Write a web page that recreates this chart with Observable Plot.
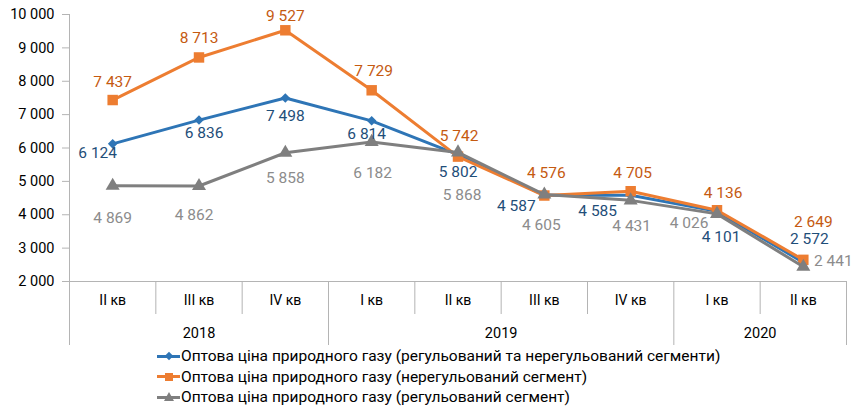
<!DOCTYPE html>
<html><head><meta charset="utf-8">
<script src="https://cdn.jsdelivr.net/npm/d3@7"></script>
<script src="https://cdn.jsdelivr.net/npm/@observablehq/plot@0.6"></script>
<style>
body{margin:0;background:#fff;font-family:Roboto,"Liberation Sans",sans-serif;}
#chart svg{display:block}
#legend{margin-left:157px;margin-top:1px;font-size:15.5px;color:#000;}
.row{height:20.5px;display:flex;align-items:center;white-space:nowrap}
.sw{position:relative;width:23px;height:12px;margin-right:1px;flex:none}
.sw .ln{position:absolute;left:0;right:0;top:4.5px;height:3px}
.sw .mk{position:absolute;}
</style>
</head><body>
<div id="chart"></div>
<div id="legend"></div>
<script>
// ---- data ----
const quarters = ["II кв","III кв","IV кв","I кв","II кв","III кв","IV кв","I кв","II кв"];
const quarterYear = ["2018","2018","2018","2019","2019","2019","2019","2020","2020"];
const years = ["2018","2019","2020"];
const seriesNames = [
  "Оптова ціна природного газу (регульований та нерегульований сегменти)",
  "Оптова ціна природного газу (нерегульований сегмент)",
  "Оптова ціна природного газу (регульований сегмент)"
];
const totalPrice       = [6124, 6836, 7498, 6814, 5802, 4587, 4585, 4101, 2572];
const unregulatedPrice = [7437, 8713, 9527, 7729, 5742, 4576, 4705, 4136, 2649];
const regulatedPrice   = [4869, 4862, 5858, 6182, 5868, 4605, 4431, 4026, 2441];
const yTicks = [2000, 3000, 4000, 5000, 6000, 7000, 8000, 9000, 10000];

// ---- style ----
const lineColors  = ["#2e75b6", "#ed7d31", "#7f7f7f"];
const labelColors = ["#1f4e79", "#c55a11", "#8c8c8c"];
const symbols = ["diamond2", "square", "triangle"];
const symbolR = [4.3, 5.9, 5.2];
const labelOffsets = [
  [[-15,9],[5,13],[0,18],[-5,13],[0,17],[-28,11],[-33,16],[4,26],[6,-23]],
  [[0,-18],[0,-19],[0,-14],[2,-19],[1,-21],[2,-22],[2,-18],[6,-17],[10,-38]],
  [[0,32],[-5,29],[0,25],[1,31],[4,43],[-3,30],[1,26],[-28,9],[30,-6]]
];
const axisColor = "#b4b4b4";
const fmt = d => d3.format(",")(d).replace(/,/g, " ");

const seriesValues = [totalPrice, unregulatedPrice, regulatedPrice];
const rows = [];
seriesValues.forEach((vals, s) => vals.forEach((v, i) => rows.push({s, i, x: i + 0.5, y: v, q: quarters[i]})));

// boundaries
const yearBounds = [0];
const innerBounds = [];
for (let i = 1; i < quarters.length; i++) {
  if (quarterYear[i] !== quarterYear[i-1]) yearBounds.push(i); else innerBounds.push(i);
}
yearBounds.push(quarters.length);
const yearLabels = years.map(yr => {
  const idx = quarterYear.map((q, i) => q === yr ? i : -1).filter(i => i >= 0);
  return {year: yr, x: (idx[0] + idx[idx.length-1] + 1) / 2};
});

const marks = [
  Plot.axisY({ticks: yTicks, tickFormat: fmt, tickSize: 7, tickPadding: 8, stroke: axisColor, fill: "#000", fontSize: 14.5, label: null}),
  Plot.ruleX([0], {stroke: axisColor}),
  Plot.ruleY([2000], {stroke: axisColor}),
  // category dividers below axis
  Plot.ruleX(innerBounds, {x: d => d, y1: 2000, y2: 2000, insetBottom: -33, stroke: axisColor}),
  Plot.ruleX(yearBounds, {x: d => d, y1: 2000, y2: 2000, insetBottom: -64, stroke: axisColor}),
  Plot.text(quarters.map((q, i) => ({q, x: i + 0.5})), {x: "x", text: "q", frameAnchor: "bottom", dy: 23, fontSize: 14, fill: "#000"}),
  Plot.text(yearLabels, {x: "x", text: "year", frameAnchor: "bottom", dy: 56, fontSize: 14.5, fill: "#000"})
];
[0, 1, 2].forEach(s => {
  const data = rows.filter(r => r.s === s);
  marks.push(Plot.line(data, {x: "x", y: "y", stroke: lineColors[s], strokeWidth: 3}));
  marks.push(Plot.dot(data, {x: "x", y: "y", symbol: () => symbols[s], r: symbolR[s], fill: lineColors[s], stroke: "none"}));
});
[0, 1, 2].forEach(s => {
  rows.filter(r => r.s === s).forEach(r => {
    const [dx, dy] = labelOffsets[s][r.i];
    marks.push(Plot.text([r], {x: "x", y: "y", text: d => fmt(d.y), dx, dy, fill: labelColors[s], fontSize: 15.5}));
  });
});

const chart = Plot.plot({
  width: 852, height: 345,
  marginLeft: 69, marginRight: 6, marginTop: 14, marginBottom: 64,
  style: {fontFamily: 'Roboto,"Liberation Sans",sans-serif', background: "#fff"},
  x: {type: "linear", domain: [0, quarters.length], axis: null},
  y: {domain: [2000, 10000], axis: null},
  marks
});
document.getElementById("chart").appendChild(chart);

// legend
const legend = document.getElementById("legend");
seriesNames.forEach((name, s) => {
  const row = document.createElement("div"); row.className = "row";
  const sw = document.createElement("div"); sw.className = "sw";
  const ln = document.createElement("div"); ln.className = "ln"; ln.style.background = lineColors[s];
  const mk = document.createElement("div"); mk.className = "mk";
  if (s === 0) { Object.assign(mk.style, {width: "6px", height: "6px", left: "8.5px", top: "3px", background: lineColors[s], transform: "rotate(45deg)"}); }
  else if (s === 1) { Object.assign(mk.style, {width: "8px", height: "8px", left: "7.5px", top: "2px", background: lineColors[s]}); }
  else { Object.assign(mk.style, {width: "0", height: "0", left: "6.5px", top: "1px", borderLeft: "5px solid transparent", borderRight: "5px solid transparent", borderBottom: "9px solid " + lineColors[s]}); }
  sw.appendChild(ln); sw.appendChild(mk);
  const t = document.createElement("span"); t.textContent = name;
  row.appendChild(sw); row.appendChild(t);
  legend.appendChild(row);
});
</script>
</body></html>
